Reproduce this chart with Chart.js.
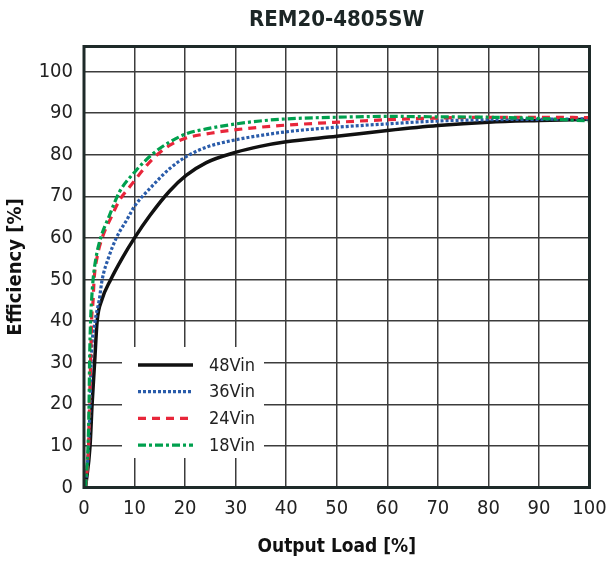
<!DOCTYPE html>
<html><head><meta charset="utf-8">
<script src="https://cdn.jsdelivr.net/npm/chart.js@4.4.1/dist/chart.umd.min.js"></script>
<style>html,body{margin:0;padding:0;background:#fff;}</style>
</head><body>
<canvas id="c" width="607" height="565"></canvas>
<script>
const FONT = "'Liberation Sans Narrow','Arial Narrow','DejaVu Sans Condensed',sans-serif";

const chartTitle = 'REM20-4805SW';
const xTitle = 'Output Load [%]';
const yTitle = 'Efficiency [%]';
const seriesNames = ['48Vin', '36Vin', '24Vin', '18Vin'];

const load48 = [0.3, 1.2, 1.6, 2.1, 2.6, 3.5, 5.3, 7.6, 10, 13, 16.9, 20.2, 24.2, 30.1, 34.8, 40, 50, 60, 70, 80, 90, 100];
const eff48  = [0, 10, 20, 30, 40, 45, 50, 55.2, 60, 65.3, 71.2, 75, 78.1, 80.6, 82, 83.1, 84.4, 85.8, 87, 87.8, 88.2, 88.5];

const load36 = [0.3, 0.9, 1.2, 1.4, 2.2, 3.0, 3.6, 4.9, 6.4, 8.6, 10, 13.6, 16.9, 20.2, 24.2, 30.1, 34.8, 40, 50, 60, 70, 80, 90, 100];
const eff36  = [0, 10, 20, 30, 40, 45, 50, 55.4, 60, 64.6, 67.6, 72.6, 76.6, 79.5, 81.8, 83.6, 84.6, 85.5, 86.6, 87.4, 88.1, 88.4, 88.5, 88.6];

const load24 = [0.3, 0.9, 1.1, 1.3, 1.5, 1.8, 2.0, 2.6, 3.6, 5.6, 7, 9, 13.6, 16.9, 20.2, 24.2, 30.1, 34.8, 40, 50, 60, 70, 80, 90, 100];
const eff24  = [0, 10, 20, 30, 40, 45, 50, 55.4, 60, 65.5, 69, 72.2, 79, 82.2, 84, 85, 86, 86.6, 87.1, 87.8, 88.4, 88.8, 89, 89, 88.9];

const load18 = [0.3, 0.8, 1.0, 1.1, 1.3, 1.5, 1.8, 2.4, 3.3, 4.9, 7, 10.3, 13.6, 16.9, 20.2, 24.2, 30.1, 34.8, 40, 50, 60, 70, 80, 90, 100];
const eff18  = [0, 10, 20, 30, 40, 45, 50, 55.4, 60, 65, 71, 76.2, 80.2, 83, 85, 86.2, 87.4, 88.1, 88.6, 89, 89.2, 89.1, 89, 88.7, 88.1];

const xTicksMax = 100, yTicksMax = 100, yAxisMax = 106, tickStep = 10;

function pts(xs, ys) { return xs.map((x, i) => ({ x: x, y: ys[i] })); }

const styles = [
  { color: '#111111', width: 3.5, dash: [] },
  { color: '#2a5caa', width: 3.2, dash: [3, 2] },
  { color: '#e8263a', width: 3.2, dash: [8, 6] },
  { color: '#00a04e', width: 3.2, dash: [8, 3, 3, 3] }
];
const seriesData = [pts(load48, eff48), pts(load36, eff36), pts(load24, eff24), pts(load18, eff18)];
const drawOrder = [4, 3, 2, 1];

const datasets = seriesNames.map((name, i) => ({
  label: name,
  data: seriesData[i],
  borderColor: styles[i].color,
  borderWidth: styles[i].width,
  borderDash: styles[i].dash,
  pointRadius: 0,
  fill: false,
  cubicInterpolationMode: 'monotone',
  order: drawOrder[i]
}));

const legendBox = {
  id: 'legendBox',
  beforeDatasetsDraw(chart) {
    const { ctx, chartArea: a } = chart;
    ctx.save();
    ctx.fillStyle = '#ffffff';
    ctx.fillRect(a.left + 38, a.bottom - 140.5, 142, 111);
    ctx.font = '18px ' + FONT;
    ctx.textBaseline = 'middle';
    ctx.textAlign = 'left';
    chart.data.datasets.forEach((ds, i) => {
      const y = a.bottom - 122.5 + i * 26.7;
      ctx.beginPath();
      ctx.strokeStyle = ds.borderColor;
      ctx.lineWidth = ds.borderWidth;
      ctx.setLineDash(ds.borderDash);
      ctx.moveTo(a.left + 54, y);
      ctx.lineTo(a.left + 109, y);
      ctx.stroke();
      ctx.setLineDash([]);
      ctx.fillStyle = '#222222';
      ctx.fillText(ds.label, a.left + 125, y + 1);
    });
    ctx.restore();
  }
};

const frame = {
  id: 'frame',
  afterDatasetsDraw(chart) {
    const { ctx, chartArea: a } = chart;
    ctx.save();
    ctx.strokeStyle = '#1e2a29';
    ctx.lineWidth = 3;
    ctx.strokeRect(a.left, a.top, a.right - a.left, a.bottom - a.top);
    ctx.restore();
  }
};

new Chart(document.getElementById('c'), {
  type: 'line',
  data: { datasets: datasets },
  plugins: [legendBox, frame],
  options: {
    responsive: false,
    animation: false,
    devicePixelRatio: 1,
    layout: { padding: 0 },
    plugins: {
      legend: { display: false },
      tooltip: { enabled: false },
      title: {
        display: true,
        text: chartTitle,
        fullSize: false,
        color: '#1c2626',
        font: { family: FONT, size: 22, weight: 'bold', lineHeight: 1.2 },
        padding: { top: 7, bottom: 13.1 }
      }
    },
    scales: {
      x: {
        type: 'linear',
        min: 0, max: xTicksMax,
        ticks: { stepSize: tickStep, color: '#222', font: { family: FONT, size: 20 }, padding: 9, maxRotation: 0, autoSkip: false },
        grid: { color: '#3c3c3c', lineWidth: 1.5, drawTicks: false },
        border: { display: false },
        title: { display: true, text: xTitle, color: '#111', font: { family: FONT, size: 19, weight: 'bold', lineHeight: 1.2 }, padding: { top: 4, bottom: 7 } },
        afterFit(s) { s.height = 77.5; s.paddingRight = 17.5; s.paddingLeft = 0; }
      },
      y: {
        min: 0, max: yAxisMax,
        ticks: {
          stepSize: tickStep, color: '#222', font: { family: FONT, size: 20 }, padding: 11,
          callback: v => (v <= yTicksMax && v % tickStep === 0) ? String(v) : ''
        },
        grid: { color: '#3c3c3c', lineWidth: 1.5, drawTicks: false },
        border: { display: false },
        title: { display: true, text: yTitle, color: '#111', font: { family: FONT, size: 20, weight: 'bold', lineHeight: 1.2 }, padding: { top: 4, bottom: 4 } },
        afterFit(s) { s.width = 84; s.paddingTop = 0; s.paddingBottom = 0; }
      }
    }
  }
});
</script>
</body></html>
